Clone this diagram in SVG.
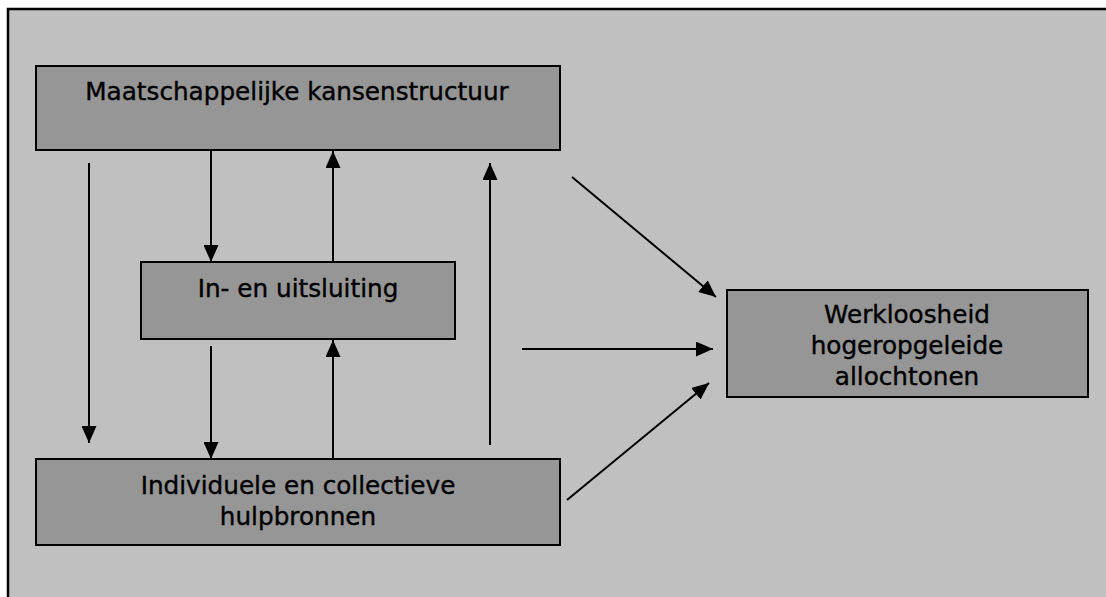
<svg xmlns="http://www.w3.org/2000/svg" width="1106" height="597" viewBox="0 0 1106 597">
  <style>
    .frame { fill: #c0c0c0; stroke: #000; stroke-width: 2.5; }
    .box { fill: #969696; stroke: #000; stroke-width: 2; }
    .lbl { font-family: "DejaVu Sans", sans-serif; font-size: 24.7px; fill: #000; stroke: #000; stroke-width: 0.4; text-anchor: middle; }
    .conn line { stroke: #000; stroke-width: 2; marker-end: url(#arr); }
  </style>
  <defs>
    <marker id="arr" markerUnits="userSpaceOnUse" viewBox="0 0 17 15" refX="17" refY="7.5" markerWidth="17" markerHeight="15" orient="auto">
      <path d="M0,0 L17,7.5 L0,15 Z" fill="#000"/>
    </marker>
  </defs>
  <rect x="0" y="0" width="1106" height="597" fill="#fff"/>
  <rect class="frame" x="8" y="9" width="1120" height="610"/>

  <g id="node-kansenstructuur">
    <rect class="box" x="36" y="66" width="524" height="84"/>
    <text class="lbl" x="297" y="100">Maatschappelijke kansenstructuur</text>
  </g>
  <g id="node-uitsluiting">
    <rect class="box" x="141" y="262" width="314" height="77"/>
    <text class="lbl" x="298" y="297">In- en uitsluiting</text>
  </g>
  <g id="node-hulpbronnen">
    <rect class="box" x="36" y="459" width="524" height="86"/>
    <text class="lbl" x="298" y="494">Individuele en collectieve</text>
    <text class="lbl" x="298" y="525">hulpbronnen</text>
  </g>
  <g id="node-werkloosheid">
    <rect class="box" x="727" y="290" width="361" height="107"/>
    <text class="lbl" x="907" y="323">Werkloosheid</text>
    <text class="lbl" x="907" y="354">hogeropgeleide</text>
    <text class="lbl" x="907" y="385">allochtonen</text>
  </g>

  <g id="connectors" class="conn">
    <line x1="89" y1="163" x2="89" y2="443"/>
    <line x1="211" y1="150" x2="211" y2="262"/>
    <line x1="333" y1="262" x2="333" y2="151"/>
    <line x1="211" y1="346" x2="211" y2="459"/>
    <line x1="333" y1="459" x2="333" y2="340"/>
    <line x1="490" y1="445" x2="490" y2="163"/>
    <line x1="522" y1="349" x2="713" y2="349"/>
    <line x1="572" y1="177" x2="716" y2="297"/>
    <line x1="567" y1="500" x2="709" y2="383"/>
  </g>
</svg>
